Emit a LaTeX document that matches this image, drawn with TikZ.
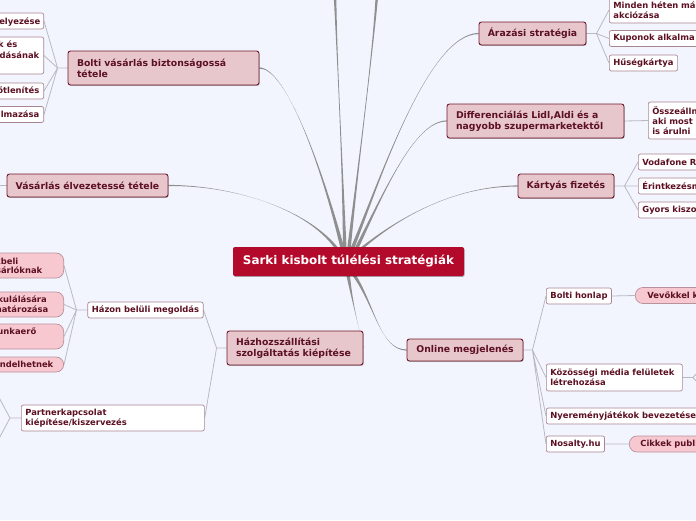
\documentclass[tikz,border=0pt]{standalone}
\usepackage{fontspec}
\setmainfont{DejaVu Sans}
\usetikzlibrary{calc,shadows}
\definecolor{bgc}{HTML}{F3F5FE}
\definecolor{rootc}{HTML}{B30A2C}
\definecolor{mainfill}{HTML}{E7C6CC}
\definecolor{mainborder}{HTML}{6E1A2C}
\definecolor{txt}{HTML}{5C1022}
\definecolor{subborder}{HTML}{A88593}
\definecolor{pillfill}{HTML}{F8C8D1}
\definecolor{pillborder}{HTML}{B8919C}
\definecolor{conngray}{HTML}{8F8F8F}
\definecolor{thingray}{HTML}{B9B9C2}
\pgfdeclarelayer{back}\pgfdeclarelayer{conn}
\pgfsetlayers{back,conn,main}
\newcommand\mfont{\fontsize{9.3}{11}\selectfont\bfseries}
\newcommand\sfont{\fontsize{8.4}{10.2}\selectfont\bfseries}
\newcommand\rfont{\fontsize{11.9}{14}\selectfont\bfseries}
\newcommand\taper[6]{\fill[fill=conngray] ($(#1)+(#5)$) .. controls (#2) and (#3) .. ($(#4)+(#6)$) -- ($(#4)-(#6)$) .. controls (#3) and (#2) .. ($(#1)-(#5)$) -- cycle;}
\tikzset{
  rootnode/.style={fill=rootc, text=white, font=\rfont, rounded corners=2, minimum width=231, minimum height=29, inner sep=0,
    drop shadow={shadow xshift=0.6pt, shadow yshift=-0.9pt, opacity=0.3, fill=black}},
  mainnode/.style={draw=mainborder, fill=mainfill, line width=0.9, rounded corners=2.5, text=txt, font=\mfont, align=left,
    inner xsep=9, inner ysep=0, drop shadow={shadow xshift=0.6pt, shadow yshift=-0.9pt, opacity=0.3, fill=black}},
  subnode/.style={draw=subborder, fill=white, line width=0.7, rounded corners=2, text=txt, font=\sfont, align=left,
    inner xsep=4, inner ysep=0, minimum height=16},
  pillnode/.style={draw=pillborder, fill=pillfill, line width=0.7, rounded corners=7.5, text=txt, font=\sfont, align=left,
    inner xsep=11, inner ysep=0, minimum height=16},
  frag/.style={font=\sfont, text=txt, inner sep=0, anchor=east, text height=6.3, text depth=1.8},
  subline/.style={draw=thingray, line width=0.8},
}
\begin{document}
\begin{tikzpicture}[x=1pt,y=-1pt]
\useasboundingbox (0,0) rectangle (696,520);
\begin{pgfonlayer}{back}
\fill[bgc] (0,0) rectangle (696,520);
\end{pgfonlayer}

% root
\node[rootnode] (root) at (348.5,261.5) {Sarki kisbolt túlélési stratégiák};

% main nodes
\node[mainnode, text width=173, minimum height=34] (bolti) at (163.5,68) {Bolti vásárlás biztonságossá\\tétele};
\node[mainnode, inner xsep=2, minimum width=161, minimum height=23] (velv) at (87.5,185.5) {Vásárlás élvezetessé tétele};
\node[mainnode, text width=118, minimum height=34] (haz) at (295,348) {Házhozszállítási\\szolgáltatás kiépítése};
\node[mainnode, inner xsep=2, minimum width=116, minimum height=22] (online) at (465,350) {Online megjelenés};
\node[mainnode, inner xsep=2, minimum width=107, minimum height=23] (araz) at (532.5,33.5) {Árazási stratégia};
\node[mainnode, text width=159, minimum height=34] (diff) at (535.5,121) {Differenciálás Lidl,Aldi és a\\nagyobb szupermarketektől};
\node[mainnode, inner xsep=2, minimum width=96, minimum height=24] (kart) at (566,186) {Kártyás fizetés};

% left children of Bolti
\node[subnode, anchor=east, minimum width=100] (c1) at (44,21) {};
\node[subnode, anchor=east, minimum width=100, minimum height=37] (c2) at (44,55.5) {};
\node[subnode, anchor=east, minimum width=100] (c3) at (44,91) {};
\node[subnode, anchor=east, minimum width=100] (c4) at (44,114.5) {};
\node[frag] (c1t) at (40.5,22) {elyezése};
\node[frag] (c2a) at (17.5,45.5) {k és};
\node[frag] (c2b) at (39.5,56) {dásának};
\node[frag] (c3t) at (39.5,91) {őtlenítés};
\node[frag] (c4t) at (39.5,115) {almazása};

% Házhozszállítási children
\node[subnode] (hazon) at (145.5,310) {Házon belüli megoldás};
\node[subnode, anchor=west, text width=175, minimum height=26] (partner) at (21,418) {Partnerkapcsolat\\kiépítése/kiszervezés};
\node[pillnode, anchor=east, minimum width=100, minimum height=25] (p1) at (64,265.5) {};
\node[pillnode, anchor=east, minimum width=100, minimum height=25] (p2) at (64,304.5) {};
\node[pillnode, anchor=east, minimum width=100, minimum height=25] (p3) at (64,336.5) {};
\node[pillnode, anchor=east, minimum width=100, minimum height=15] (p4) at (64,364.5) {};
\node[frag] (p1a) at (18.5,262) {kbeli};
\node[frag] (p1b) at (42.5,271.5) {sárlóknak};
\node[frag] (p2a) at (47,300.5) {kulálására};
\node[frag] (p2b) at (48.5,310.5) {határozása};
\node[frag] (p3a) at (36.5,332) {unkaerő};
\node[frag] (p4a) at (53.5,365) {endelhetnek};

% right side children
\node[subnode, anchor=west, text width=120, minimum height=26] (minden) at (609,10) {Minden héten má\\akciózása};
\node[subnode, anchor=west, text width=120] (kup) at (609,38.5) {Kuponok alkalma};
\node[subnode, anchor=west] (hus) at (609,63) {Hűségkártya};
\node[subnode, anchor=west, text width=120, minimum height=37] (ossz) at (648,120.5) {Összeállni\\aki most\\is árulni};
\node[subnode, anchor=west, text width=120] (vod) at (638,162) {Vodafone R};
\node[subnode, anchor=west, text width=120] (erin) at (638,186) {Érintkezésm};
\node[subnode, anchor=west, text width=120] (gyors) at (638,210) {Gyors kiszo};

% Online children
\node[subnode, anchor=west] (bh) at (546,296) {Bolti honlap};
\node[subnode, anchor=west, text width=128, minimum height=27] (kozo) at (546,377.5) {Közösségi média felületek\\létrehozása};
\node[subnode, anchor=west] (nyer) at (546,416) {Nyereményjátékok bevezetése};
\node[subnode, anchor=west] (nos) at (546,444) {Nosalty.hu};
\node[pillnode, anchor=west, inner xsep=12, text width=120] (vev) at (635,295.5) {Vevőkkel ka};
\node[pillnode, anchor=west, text width=120] (cikk) at (629,444) {Cikkek publik};

% coordinates
\coordinate (rtop) at ($(root.north west)+(113,3)$);
\coordinate (rbot) at ($(root.south west)+(118,-3)$);
\coordinate (sv) at ($(rtop)+(-8,0)$);
\coordinate (sb) at ($(rtop)+(-3,0)$);
\coordinate (st1) at ($(rtop)+(-1,0)$);
\coordinate (st2) at ($(rtop)+(3,0)$);
\coordinate (sa) at ($(rtop)+(6,0)$);
\coordinate (sd) at ($(rtop)+(10,0)$);
\coordinate (sk) at ($(rtop)+(14,0)$);
\coordinate (sh) at ($(rbot)+(-3,0)$);
\coordinate (so) at ($(rbot)+(2,0)$);
\coordinate (top1) at (335,-5);
\coordinate (top2) at (377,-5);

\coordinate (bf) at ($(bolti.west)+(-10,0)$);
\coordinate (velvout) at ($(velv.west)+(-12,0)$);
\coordinate (hf) at ($(haz.west)+(-10,0)$);
\coordinate (hzf) at ($(hazon.west)+(-11,0)$);
\coordinate (pf) at ($(partner.west)+(-11,0)$);
\coordinate (pout1) at ($(pf)+(-15,-28)$);
\coordinate (pout2) at ($(pf)+(-15,28)$);
\coordinate (of) at ($(online.east)+(9,0)$);
\coordinate (kf) at ($(kozo.east)+(10,0)$);
\coordinate (kout1) at ($(kf)+(8,-8)$);
\coordinate (kout2) at ($(kf)+(8,8)$);
\coordinate (af) at ($(araz.east)+(10,0)$);
\coordinate (kaf) at ($(kart.east)+(10,0)$);

\begin{pgfonlayer}{conn}
\taper{sv}{305,205}{225,185}{velv.east}{2,0}{0,0.6}
\taper{sb}{320,160}{285,68}{bolti.east}{2,0}{0,0.6}
\taper{st1}{342,150}{337,60}{top1}{1.8,0}{1.3,0}
\taper{st2}{360,150}{372,60}{top2}{1.8,0}{1.3,0}
\taper{sa}{380,180}{428,34}{araz.west}{2,0}{0,0.6}
\taper{sd}{385,190}{415,121}{diff.west}{2,0}{0,0.6}
\taper{sk}{405,212}{460,186}{kart.west}{2,0}{0,0.6}
\taper{sh}{352,300}{358,325}{haz.east}{2,0}{0,0.6}
\taper{so}{375,305}{380,350}{online.west}{2,0}{0,0.6}

\draw[subline] (bolti.west) -- (bf) (bf) -- (c1.east) (bf) -- (c2.east) (bf) -- (c3.east) (bf) -- (c4.east);
\draw[subline] (velv.west) -- (velvout);
\draw[subline] (haz.west) -- (hf) (hf) -- (hazon.east) (hf) -- (partner.east);
\draw[subline] (hazon.west) -- (hzf) (hzf) -- (p1.east) (hzf) -- (p2.east) (hzf) -- (p3.east) (hzf) -- (p4.east);
\draw[subline] (partner.west) -- (pf) (pf) -- (pout1) (pf) -- (pout2);
\draw[subline] (online.east) -- (of) (of) -- (bh.west) (of) -- (kozo.west) (of) -- (nyer.west) (of) -- (nos.west);
\draw[subline] (bh.east) -- (vev.west) (nos.east) -- (cikk.west);
\draw[subline] (kozo.east) -- (kf) (kf) -- (kout1) (kf) -- (kout2);
\draw[subline] (araz.east) -- (af) (af) -- (minden.west) (af) -- (kup.west) (af) -- (hus.west);
\draw[subline] (diff.east) -- (ossz.west);
\draw[subline] (kart.east) -- (kaf) (kaf) -- (vod.west) (kaf) -- (erin.west) (kaf) -- (gyors.west);
\end{pgfonlayer}
\end{tikzpicture}
\end{document}
